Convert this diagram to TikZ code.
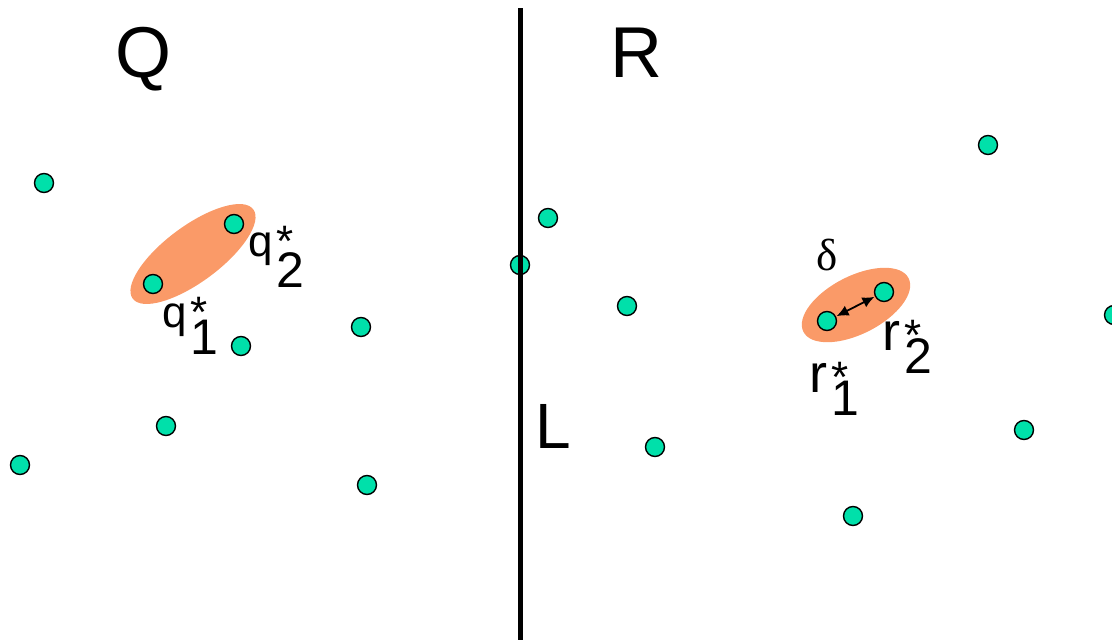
\documentclass[tikz,border=0pt]{standalone}
\usepackage{fontspec}
\setmainfont{Liberation Sans}
\newfontfamily\cpgreek{Liberation Serif}
\usepackage{xcolor}
\usepackage{tikz}
\usetikzlibrary{arrows.meta,positioning}
\definecolor{cpgreen}{HTML}{00E0AA}
\definecolor{cporange}{HTML}{FA9A68}
% base letter, then the star and the index stacked behind it
\newcommand{\cplabel}[3]{#1\kern4pt\makebox[0pt][l]{\fontsize{44}{44}\selectfont *}\raisebox{-#3}{\fontsize{50}{50}\selectfont #2}}
\tikzset{%
  cppoint/.style={%
    circle,
    draw=black,
    fill=cpgreen,
    line width=1.4pt,
    minimum size=19pt,
    inner sep=0pt
  },
  cphull/.style={%
    fill=cporange,
    draw=none
  },
  cpline/.style={line width=5pt,draw=black},
  cparrow/.style={{Latex[length=12pt,width=11pt]}-{Latex[length=12pt,width=11pt]},line width=1.8pt,draw=black,shorten <=0.5pt,shorten >=0.5pt},
  cptitle/.style={anchor=base west,inner sep=0pt,font=\fontsize{72}{72}\selectfont},
  cpqtext/.style={anchor=base west,inner sep=0pt,font=\fontsize{44}{44}\selectfont},
  cprtext/.style={anchor=base west,inner sep=0pt,font=\fontsize{54}{54}\selectfont}
}
\begin{document}
\begin{tikzpicture}[x=1pt,y=-1pt]
    \useasboundingbox (0,0) rectangle (1112,640);

    % closest pairs on each side
    \fill[cphull,rotate around={36.5:(193,254)}] (193,254) ellipse [x radius=75,y radius=28];
    \fill[cphull,rotate around={27:(856,305)}] (856,305) ellipse [x radius=59,y radius=29];

    % points of Q
    \node[cppoint] (q1) at (153,284) {};
    \node[cppoint] (q2) at (234,224) {};
    \foreach \px/\py [count=\i] in {44/183,241/346,361/327,166/426,20/465,367/485}
      \node[cppoint] (qp\i) at (\px,\py) {};

    % points of R
    \node[cppoint] (r1) at (827,321) {};
    \node[cppoint] (r2) at (884,292) {};
    \foreach \px/\py [count=\i] in {548/218,520/265,627/306,655/447,988/145,1114/315,1024/430,853/516}
      \node[cppoint] (rp\i) at (\px,\py) {};

    % dividing line
    \coordinate (ltop) at (520,8);
    \coordinate (lbot) at (520,640);
    \draw[cpline] (ltop) -- (lbot);

    \draw[cparrow] (r1) -- (r2);

    % labels
    \node[cptitle] (qname) at (115,77) {Q};
    \node[cptitle] (rname) at (610,77) {R};
    \node[cptitle,font=\fontsize{64}{64}\selectfont] (lname) at (535,448) {L};
    \node[anchor=base west,inner sep=0pt,font=\fontsize{45}{45}\cpgreek] (dname) at (816,270) {δ};
    \node[cpqtext] (q1name) at (162,327) {\cplabel{q}{1}{27pt}};
    \node[cpqtext] (q2name) at (248,256) {\cplabel{q}{2}{31pt}};
    \node[cprtext] (r1name) at (809,392) {\cplabel{r}{1}{23pt}};
    \node[cprtext] (r2name) at (882,350) {\cplabel{r}{2}{23pt}};
\end{tikzpicture}
\end{document}
